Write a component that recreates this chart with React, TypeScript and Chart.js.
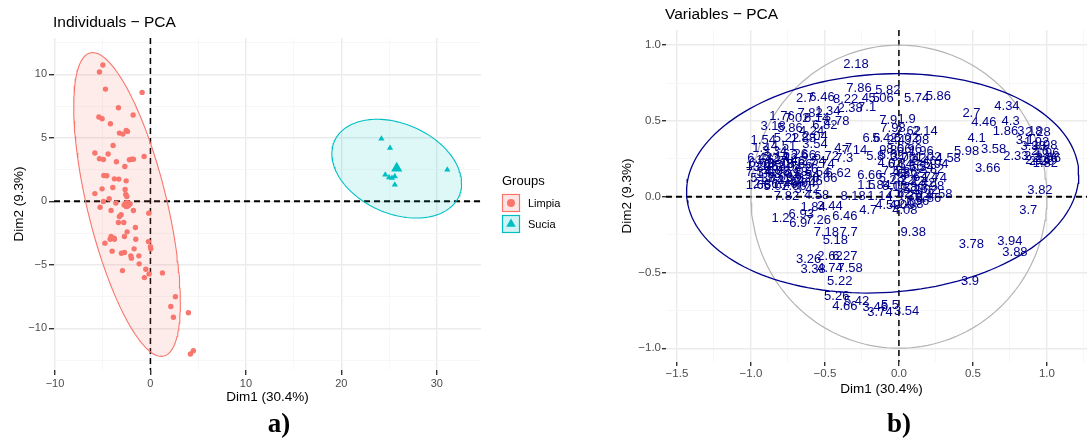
import React, { useEffect, useRef } from "react";
import { Chart, registerables } from "chart.js";

Chart.register(...registerables);

const FONT = '"Liberation Sans", Arial, Helvetica, sans-serif';
const LIMPIA = "#F8766D";
const SUCIA = "#00BFC4";
const NAVY = "#00008B";

// ---- Individuals: coordinates on Dim1 / Dim2 ----
const limpiaDim1 = [
  -4.98, -5.34, -4.71, -0.87, -3.35, -1.81, -5.4, -5.06, -4.19, -3.25,
  -2.89, -2.54, -2.41, -3.91, -5.82, -4.43, -0.66, -5.34, -4.92, -3.56,
  -1.95, -2.2, -1.78, -2.68, -4.88, -4.57, -3.77, -3.31, -2.54, -5.06,
  -3.94, -2.65, -5.82, -4.32, -2.58, -2.47, -3.62, -2.75, -2.26, -2.13,
  -2.54, -5.27, -4.12, -1.78, -0.17, -4.92, -3.07, -3.25, -3.35, -2.79,
  -1.57, -2.44, -4.12, -3.8, -2.72, -1.53, -4.77, -4.22, -3.77, -0.21,
  0.0, 0.04, -1.71, -4.01, -3.04, -2.72, -2.05, -1.99, -1.21, -1.18,
  -0.48, -0.14, -0.63, -2.93, 1.26, 2.62, 2.14, 2.41, 3.98, 4.5, 4.19,
];
const limpiaDim2 = [
  10.72, 10.17, 8.83, 8.57, 7.36, 6.79, 6.63, 6.5, 6.1, 5.37,
  5.29, 5.57, 5.5, 4.39, 3.8, 3.72, 3.53, 3.35, 3.29, 3.11,
  3.32, 3.27, 3.32, 2.74, 2.03, 2.01, 1.77, 1.75, 1.61, 0.98,
  1.09, 0.93, 0.61, 0.2, 0.54, 0.38, -0.14, -0.28, -0.25, -0.2,
  -0.41, -0.46, -0.72, -0.72, -0.93, -0.01, -1.06, -1.19, -1.67, -1.67,
  -2.06, -2.4, -2.77, -2.9, -2.77, -2.98, -3.29, -2.98, -2.98, -3.17,
  -3.56, -3.74, -3.74, -3.92, -4.08, -4.03, -4.29, -4.47, -4.29, -4.92,
  -5.34, -5.71, -6.0, -5.45, -5.63, -7.5, -8.28, -9.12, -8.76, -11.75, -12.01,
];
const suciaDim1 = [24.2, 25.1, 24.6, 25.0, 25.3, 25.6, 25.6, 31.1];
const suciaDim2 = [4.92, 4.19, 2.09, 1.88, 1.83, 1.96, 1.3, 2.48];
const groupNames = ["Limpia", "Sucia"];
const limpiaMean = [-2.45, -0.25];
const suciaMean = [25.8, 2.61];
// concentration ellipses: centre x, centre y, xx, yy, xy (squared extents)
const limpiaEllipse = [-2.45, -0.25, 31.2, 142.8, -43];
const suciaEllipse = [25.8, 2.57, 46.2, 15.1, -8];

const indXTicks = [-10, -5, 0, 5, 10, 15, 20, 25, 30];
const indYTicks = [-12.5, -10, -7.5, -5, -2.5, 0, 2.5, 5, 7.5, 10, 12.5];

// ---- Variables: labels and coordinates on Dim1 / Dim2 ----
const variableLabels = [
  "2.18", "7.86", "5.82", "5.74", "5.86", "2.7", "6.46", "8.22", "2.38", "7.1",
  "4.5", "5.06", "4.34", "2.7", "4.46", "4.3", "1.86", "4.1", "3.58", "2.33",
  "5.98", "4.58", "3.66", "3.82", "3.7", "9.38", "3.78", "3.94", "3.88", "3.9",
  "7.82", "4.58", "8.18", "1.14", "1.2", "6.9", "7.26", "6.46", "3.44", "1.84",
  "6.93", "7.18", "7.7", "5.18", "3.26", "2.62", "6.27", "3.38", "4.74", "7.58",
  "5.22", "5.26", "4.66", "5.42", "3.46", "5.5", "3.74", "3.54",
  "1.76", "7.82", "1.34", "7.02", "6.14", "2.78", "6.82", "3.18", "5.86", "4.24",
  "1.54", "5.22", "1.88", "2.04", "1.4", "4.51", "3.54", "2.66", "6.72", "6.44",
  "1.66", "7.14", "4.7", "7.3", "6.62", "6.66",
  "6.02", "1.62", "5.14", "2.42", "7.46", "3.86", "1.58", "6.38", "2.94", "5.66",
  "7.34", "1.98", "4.82", "3.02", "6.18", "2.26", "5.38", "1.72", "7.06", "4.22",
  "3.62", "6.54", "2.86", "5.02", "1.46", "7.66", "4.94", "3.34", "6.26", "2.54",
  "5.54", "4.06", "7.74", "1.24", "3.42",
  "8.06", "6.96", "1.96", "1.02", "5.62", "3.06", "7.42", "2.46", "4.02", "6.34",
  "1.36", "5.34", "2.82", "7.54", "4.86", "3.22", "6.74", "1.74", "5.78", "2.22",
  "7.22", "4.42", "3.98", "6.06", "1.28", "5.46", "2.02", "7.62", "4.26", "3.14",
  "6.86", "4.09", "2.98", "4.08", "1.56", "5.94", "2.4", "6.02", "3.98", "1.5",
  "1.84", "2.58", "4.7", "4.59", "9.8", "5.8", "6.66", "7.9", "1.9", "6.6",
  "5.42", "2.62", "2.14", "7.98",
  "3.18", "2.28", "3.1", "1.98", "3.38", "2.6", "2.16", "2.36", "2.1", "1.96",
  "2.26", "1.82", "2.06", "1.92",
];
const variableDim1 = [
  -0.29, -0.27, -0.075, 0.12, 0.266, -0.635, -0.52, -0.36, -0.33, -0.215,
  -0.19, -0.12, 0.73, 0.49, 0.574, 0.755, 0.72, 0.525, 0.64, 0.79,
  0.457, 0.333, 0.6, 0.953, 0.874, 0.097, 0.49, 0.75, 0.784, 0.48,
  -0.76, -0.556, -0.31, -0.128, -0.8, -0.68, -0.545, -0.365, -0.466, -0.58,
  -0.66, -0.49, -0.34, -0.43, -0.61, -0.466, -0.365, -0.58, -0.466, -0.33,
  -0.4, -0.42, -0.365, -0.286, -0.16, -0.06, -0.128, 0.052,
  -0.79, -0.6, -0.48, -0.69, -0.556, -0.42, -0.5, -0.85, -0.736, -0.59,
  -0.917, -0.76, -0.646, -0.567, -0.93, -0.78, -0.567, -0.646, -0.49, -0.94,
  -0.95, -0.3, -0.376, -0.37, -0.41, -0.5,
  -0.93, -0.88, -0.83, -0.77, -0.72, -0.9, -0.85, -0.8, -0.74, -0.67,
  -0.95, -0.88, -0.82, -0.76, -0.7, -0.63, -0.92, -0.86, -0.8, -0.74,
  -0.68, -0.62, -0.9, -0.83, -0.77, -0.71, -0.65, -0.84, -0.7, -0.58,
  -0.55, -0.6, -0.52, -0.95, -0.62,
  0.0, 0.07, 0.15, 0.2, -0.05, 0.03, 0.1, 0.17, -0.06, 0.01,
  0.08, 0.15, 0.22, -0.03, 0.04, 0.11, 0.18, 0.24, -0.05, 0.02,
  0.09, 0.16, 0.22, -0.03, 0.04, 0.11, 0.18, 0.0, 0.07, 0.14,
  0.2, 0.02, 0.08, 0.04, 0.12, 0.25, -0.02, 0.05, 0.12, -0.22,
  -0.14, 0.277, -0.207, -0.075, -0.072, -0.16, -0.196, -0.072, 0.052, -0.185,
  -0.095, 0.063, 0.176, -0.04,
  0.885, 0.94, 0.85, 0.986, 0.907, 0.953, 0.94, 0.986, 0.907, 1.0,
  0.964, 0.99, 1.01, 0.93,
];
const variableDim2 = [
  0.87, 0.715, 0.7, 0.65, 0.66, 0.65, 0.654, 0.64, 0.583, 0.59,
  0.65, 0.65, 0.594, 0.55, 0.487, 0.497, 0.43, 0.385, 0.31, 0.264,
  0.297, 0.253, 0.187, 0.044, -0.093, -0.238, -0.312, -0.297, -0.37, -0.561,
  0.0, 0.011, 0.005, 0.0, -0.143, -0.176, -0.154, -0.127, -0.066, -0.07,
  -0.12, -0.238, -0.238, -0.286, -0.413, -0.396, -0.391, -0.479, -0.473, -0.473,
  -0.561, -0.66, -0.721, -0.693, -0.73, -0.72, -0.766, -0.759,
  0.528, 0.55, 0.561, 0.517, 0.517, 0.495, 0.469, 0.462, 0.451, 0.43,
  0.374, 0.385, 0.385, 0.396, 0.319, 0.33, 0.346, 0.275, 0.264, 0.253,
  0.077, 0.308, 0.319, 0.253, 0.154, 0.121,
  0.22, 0.24, 0.26, 0.25, 0.23, 0.19, 0.2, 0.21, 0.19, 0.21,
  0.16, 0.15, 0.17, 0.15, 0.16, 0.18, 0.12, 0.11, 0.13, 0.11,
  0.12, 0.14, 0.08, 0.07, 0.08, 0.07, 0.09, 0.3, 0.28, 0.23,
  0.16, 0.1, 0.21, 0.2, 0.05,
  0.31, 0.31, 0.3, 0.26, 0.27, 0.26, 0.25, 0.23, 0.22, 0.21,
  0.2, 0.19, 0.18, 0.17, 0.16, 0.15, 0.13, 0.12, 0.12, 0.11,
  0.1, 0.09, 0.07, 0.07, 0.06, 0.05, 0.04, 0.02, 0.01, 0.0,
  -0.01, -0.06, -0.05, -0.09, -0.03, 0.21, 0.37, 0.385, 0.37, 0.077,
  0.077, 0.016, -0.088, -0.055, 0.308, 0.264, 0.143, 0.506, 0.512, 0.385,
  0.383, 0.43, 0.43, 0.451,
  0.43, 0.423, 0.374, 0.341, 0.33, 0.297, 0.242, 0.253, 0.264, 0.286,
  0.231, 0.22, 0.25, 0.36,
];
// correlation circle and concentration ellipse of the variables
const unitCircle = [0, 0, 1, 1, 0];
const variableEllipse = [-0.11, 0.088, 1.756, 0.524, 0.075];

const varXTicks = [-1.5, -1.25, -1, -0.75, -0.5, -0.25, 0, 0.25, 0.5, 0.75, 1, 1.25];
const varYTicks = [-1, -0.75, -0.5, -0.25, 0, 0.25, 0.5, 0.75, 1];

// ---- helpers ----
const minus = (s: string) => s.replace("-", "\u2212");

function ellipsePath(e: number[], n = 160) {
  const [cx, cy, sxx, syy, sxy] = e;
  const a = Math.sqrt(sxx);
  const b = sxy / a;
  const c = Math.sqrt(syy - b * b);
  const pts: { x: number; y: number }[] = [];
  for (let i = 0; i <= n; i++) {
    const t = (2 * Math.PI * i) / n;
    pts.push({ x: cx + a * Math.cos(t), y: cy + b * Math.cos(t) + c * Math.sin(t) });
  }
  return pts;
}

const zip = (xs: number[], ys: number[]) => xs.map((x, i) => ({ x, y: ys[i] }));

function gridAxis(opts: {
  min: number;
  max: number;
  ticks: number[];
  isMajor: (v: number) => boolean;
  label: (v: number) => string;
  fixed: number;
  horizontal: boolean;
  tickLength: number;
  padding: number;
  fontSize: number;
}) {
  return {
    type: "linear",
    min: opts.min,
    max: opts.max,
    afterBuildTicks: (s: any) => {
      s.ticks = opts.ticks.map((value) => ({ value }));
    },
    afterFit: (s: any) => {
      if (opts.horizontal) s.height = opts.fixed;
      else s.width = opts.fixed;
    },
    border: { display: false },
    grid: {
      color: (c: any) => (opts.isMajor(c.tick.value) ? "#EBEBEB" : "#F5F5F5"),
      lineWidth: (c: any) => (opts.isMajor(c.tick.value) ? 1.4 : 0.8),
      tickColor: (c: any) => (opts.isMajor(c.tick.value) ? "#333333" : "rgba(0,0,0,0)"),
      tickWidth: 1.4,
      tickLength: opts.tickLength,
      drawTicks: true,
    },
    ticks: {
      autoSkip: false,
      maxRotation: 0,
      padding: opts.padding,
      color: "#4D4D4D",
      font: { family: FONT, size: opts.fontSize },
      callback: (v: number) => (opts.isMajor(v) ? opts.label(v) : ""),
    },
  };
}

const zeroLines = {
  id: "zeroLines",
  beforeDatasetsDraw(chart: any) {
    const { ctx, chartArea: a, scales } = chart;
    const x0 = scales.x.getPixelForValue(0);
    const y0 = scales.y.getPixelForValue(0);
    ctx.save();
    ctx.strokeStyle = "#000000";
    ctx.setLineDash([6, 4]);
    ctx.lineWidth = 1.5;
    ctx.beginPath();
    ctx.moveTo(x0, a.top);
    ctx.lineTo(x0, a.bottom);
    ctx.stroke();
    ctx.lineWidth = 2;
    ctx.beginPath();
    ctx.moveTo(a.left, y0);
    ctx.lineTo(a.right, y0);
    ctx.stroke();
    ctx.restore();
  },
};

function drawText(ctx: CanvasRenderingContext2D, text: string, x: number, y: number, size: number, align: CanvasTextAlign, rotate = false) {
  ctx.save();
  ctx.font = `${size}px ${FONT}`;
  ctx.fillStyle = "#000000";
  ctx.textAlign = align;
  ctx.textBaseline = "middle";
  ctx.translate(x, y);
  if (rotate) ctx.rotate(-Math.PI / 2);
  ctx.fillText(text, 0, 0);
  ctx.restore();
}

const individualsText = {
  id: "individualsText",
  afterDraw(chart: any) {
    const ctx = chart.ctx as CanvasRenderingContext2D;
    drawText(ctx, "Individuals \u2212 PCA", 53, 23, 15.5, "left");
    drawText(ctx, "Dim1 (30.4%)", 267.5, 397, 13.5, "center");
    drawText(ctx, "Dim2 (9.3%)", 19, 204, 13.5, "center", true);
    // legend
    drawText(ctx, "Groups", 502, 181, 13, "left");
    const keys = [
      { y: 194, color: LIMPIA, fill: "rgba(248,118,109,0.18)", style: "circle", r: 4 },
      { y: 215, color: SUCIA, fill: "rgba(0,191,196,0.18)", style: "triangle", r: 5.5 },
    ];
    keys.forEach((k, i) => {
      ctx.save();
      ctx.fillStyle = "#ffffff";
      ctx.fillRect(502, k.y, 18, 18);
      ctx.fillStyle = k.fill;
      ctx.fillRect(502, k.y, 18, 18);
      ctx.strokeStyle = k.color;
      ctx.lineWidth = 1.2;
      ctx.strokeRect(502.5, k.y + 0.5, 17, 17);
      ctx.fillStyle = k.color;
      ctx.beginPath();
      const cx = 511, cy = k.y + 9;
      if (k.style === "circle") {
        ctx.arc(cx, cy, k.r, 0, Math.PI * 2);
      } else {
        ctx.moveTo(cx, cy - k.r);
        ctx.lineTo(cx + k.r * 0.866, cy + k.r * 0.5);
        ctx.lineTo(cx - k.r * 0.866, cy + k.r * 0.5);
        ctx.closePath();
      }
      ctx.fill();
      ctx.restore();
      drawText(ctx, groupNames[i], 528, k.y + 10, 11, "left");
    });
  },
};

const variablesText = {
  id: "variablesText",
  afterDatasetsDraw(chart: any) {
    const ctx = chart.ctx as CanvasRenderingContext2D;
    const meta = chart.getDatasetMeta(0);
    ctx.save();
    ctx.font = `13px ${FONT}`;
    ctx.fillStyle = NAVY;
    ctx.textAlign = "center";
    ctx.textBaseline = "middle";
    meta.data.forEach((el: any, i: number) => {
      ctx.fillText(variableLabels[i], el.x, el.y);
    });
    ctx.restore();
  },
  afterDraw(chart: any) {
    const ctx = chart.ctx as CanvasRenderingContext2D;
    drawText(ctx, "Variables \u2212 PCA", 75, 15, 15.5, "left");
    drawText(ctx, "Dim1 (30.4%)", 291.5, 389, 13.5, "center");
    drawText(ctx, "Dim2 (9.3%)", 37.5, 196, 13.5, "center", true);
  },
};

export default function App() {
  const leftRef = useRef<HTMLCanvasElement>(null);
  const rightRef = useRef<HTMLCanvasElement>(null);

  useEffect(() => {
    const left = new Chart(leftRef.current as HTMLCanvasElement, {
      type: "scatter",
      data: {
        datasets: [
          {
            label: groupNames[0],
            data: zip(limpiaDim1, limpiaDim2),
            pointStyle: "circle",
            pointRadius: 2.7,
            backgroundColor: LIMPIA,
            borderWidth: 0,
            order: 0,
          },
          {
            label: groupNames[1],
            data: zip(suciaDim1, suciaDim2),
            pointStyle: "triangle",
            pointRadius: 3.6,
            backgroundColor: SUCIA,
            borderWidth: 0,
            order: 0,
          },
          {
            label: "Limpia mean",
            data: [{ x: limpiaMean[0], y: limpiaMean[1] }],
            pointStyle: "circle",
            pointRadius: 4.5,
            backgroundColor: LIMPIA,
            borderWidth: 0,
            order: 0,
          },
          {
            label: "Sucia mean",
            data: [{ x: suciaMean[0], y: suciaMean[1] }],
            pointStyle: "triangle",
            pointRadius: 6.5,
            backgroundColor: SUCIA,
            borderWidth: 0,
            order: 0,
          },
          {
            type: "line",
            label: "Limpia ellipse",
            data: ellipsePath(limpiaEllipse),
            borderColor: LIMPIA,
            borderWidth: 1.1,
            backgroundColor: "rgba(248,118,109,0.14)",
            fill: "shape",
            pointRadius: 0,
            tension: 0,
            order: 1,
          },
          {
            type: "line",
            label: "Sucia ellipse",
            data: ellipsePath(suciaEllipse),
            borderColor: SUCIA,
            borderWidth: 1.1,
            backgroundColor: "rgba(0,191,196,0.13)",
            fill: "shape",
            pointRadius: 0,
            tension: 0,
            order: 1,
          },
        ] as any,
      },
      options: {
        responsive: false,
        animation: false,
        events: [],
        layout: { padding: { left: 0, top: 38, right: 590 - 481, bottom: 0 } },
        plugins: { legend: { display: false }, tooltip: { enabled: false }, title: { display: false } },
        scales: {
          x: gridAxis({
            min: -10.1, max: 34.63, ticks: indXTicks,
            isMajor: (v) => v % 10 === 0,
            label: (v) => minus(String(v)),
            fixed: 69, horizontal: true, tickLength: 5, padding: 2, fontSize: 11,
          }),
          y: gridAxis({
            min: -13.27, max: 12.85, ticks: indYTicks,
            isMajor: (v) => v % 5 === 0,
            label: (v) => minus(String(v)),
            fixed: 54, horizontal: false, tickLength: 5, padding: 2, fontSize: 11,
          }),
        } as any,
      },
      plugins: [zeroLines, individualsText],
    });

    const right = new Chart(rightRef.current as HTMLCanvasElement, {
      type: "scatter",
      data: {
        datasets: [
          {
            label: "Variables",
            data: zip(variableDim1, variableDim2),
            pointRadius: 0,
            order: 0,
          },
          {
            type: "line",
            label: "Ellipse",
            data: ellipsePath(variableEllipse),
            borderColor: NAVY,
            borderWidth: 1.3,
            fill: false,
            pointRadius: 0,
            tension: 0,
            order: 1,
          },
          {
            type: "line",
            label: "Circle",
            data: ellipsePath(unitCircle),
            borderColor: "#B4B4B4",
            borderWidth: 1.2,
            fill: false,
            pointRadius: 0,
            tension: 0,
            order: 2,
          },
        ] as any,
      },
      options: {
        responsive: false,
        animation: false,
        events: [],
        layout: { padding: { left: 0, top: 30, right: 0, bottom: 0 } },
        plugins: { legend: { display: false }, tooltip: { enabled: false }, title: { display: false } },
        scales: {
          x: gridAxis({
            min: -1.574, max: 1.271, ticks: varXTicks,
            isMajor: (v) => Math.abs(v * 2 - Math.round(v * 2)) < 1e-9,
            label: (v) => minus(v.toFixed(1)),
            fixed: 77, horizontal: true, tickLength: 4, padding: 1, fontSize: 11.5,
          }),
          y: gridAxis({
            min: -1.091, max: 1.1, ticks: varYTicks,
            isMajor: (v) => Math.abs(v * 2 - Math.round(v * 2)) < 1e-9,
            label: (v) => minus(v.toFixed(1)),
            fixed: 76, horizontal: false, tickLength: 4, padding: 1, fontSize: 11.5,
          }),
        } as any,
      },
      plugins: [zeroLines, variablesText],
    });

    return () => {
      left.destroy();
      right.destroy();
    };
  }, []);

  const panelLabel: React.CSSProperties = {
    position: "absolute",
    top: 423,
    transform: "translate(-50%, -50%)",
    fontFamily: '"Liberation Serif", "Times New Roman", serif',
    fontWeight: "bold",
    fontSize: 27,
    lineHeight: 1,
    color: "#000",
  };

  return (
    <div style={{ position: "fixed", left: 0, top: 0, width: 1087, height: 439, background: "#ffffff", overflow: "hidden" }}>
      <canvas ref={leftRef} width={590} height={439} style={{ position: "absolute", left: 0, top: 0, width: 590, height: 439 }} />
      <canvas ref={rightRef} width={497} height={439} style={{ position: "absolute", left: 590, top: 0, width: 497, height: 439 }} />
      <div style={{ ...panelLabel, left: 279 }}>a)</div>
      <div style={{ ...panelLabel, left: 899 }}>b)</div>
    </div>
  );
}
